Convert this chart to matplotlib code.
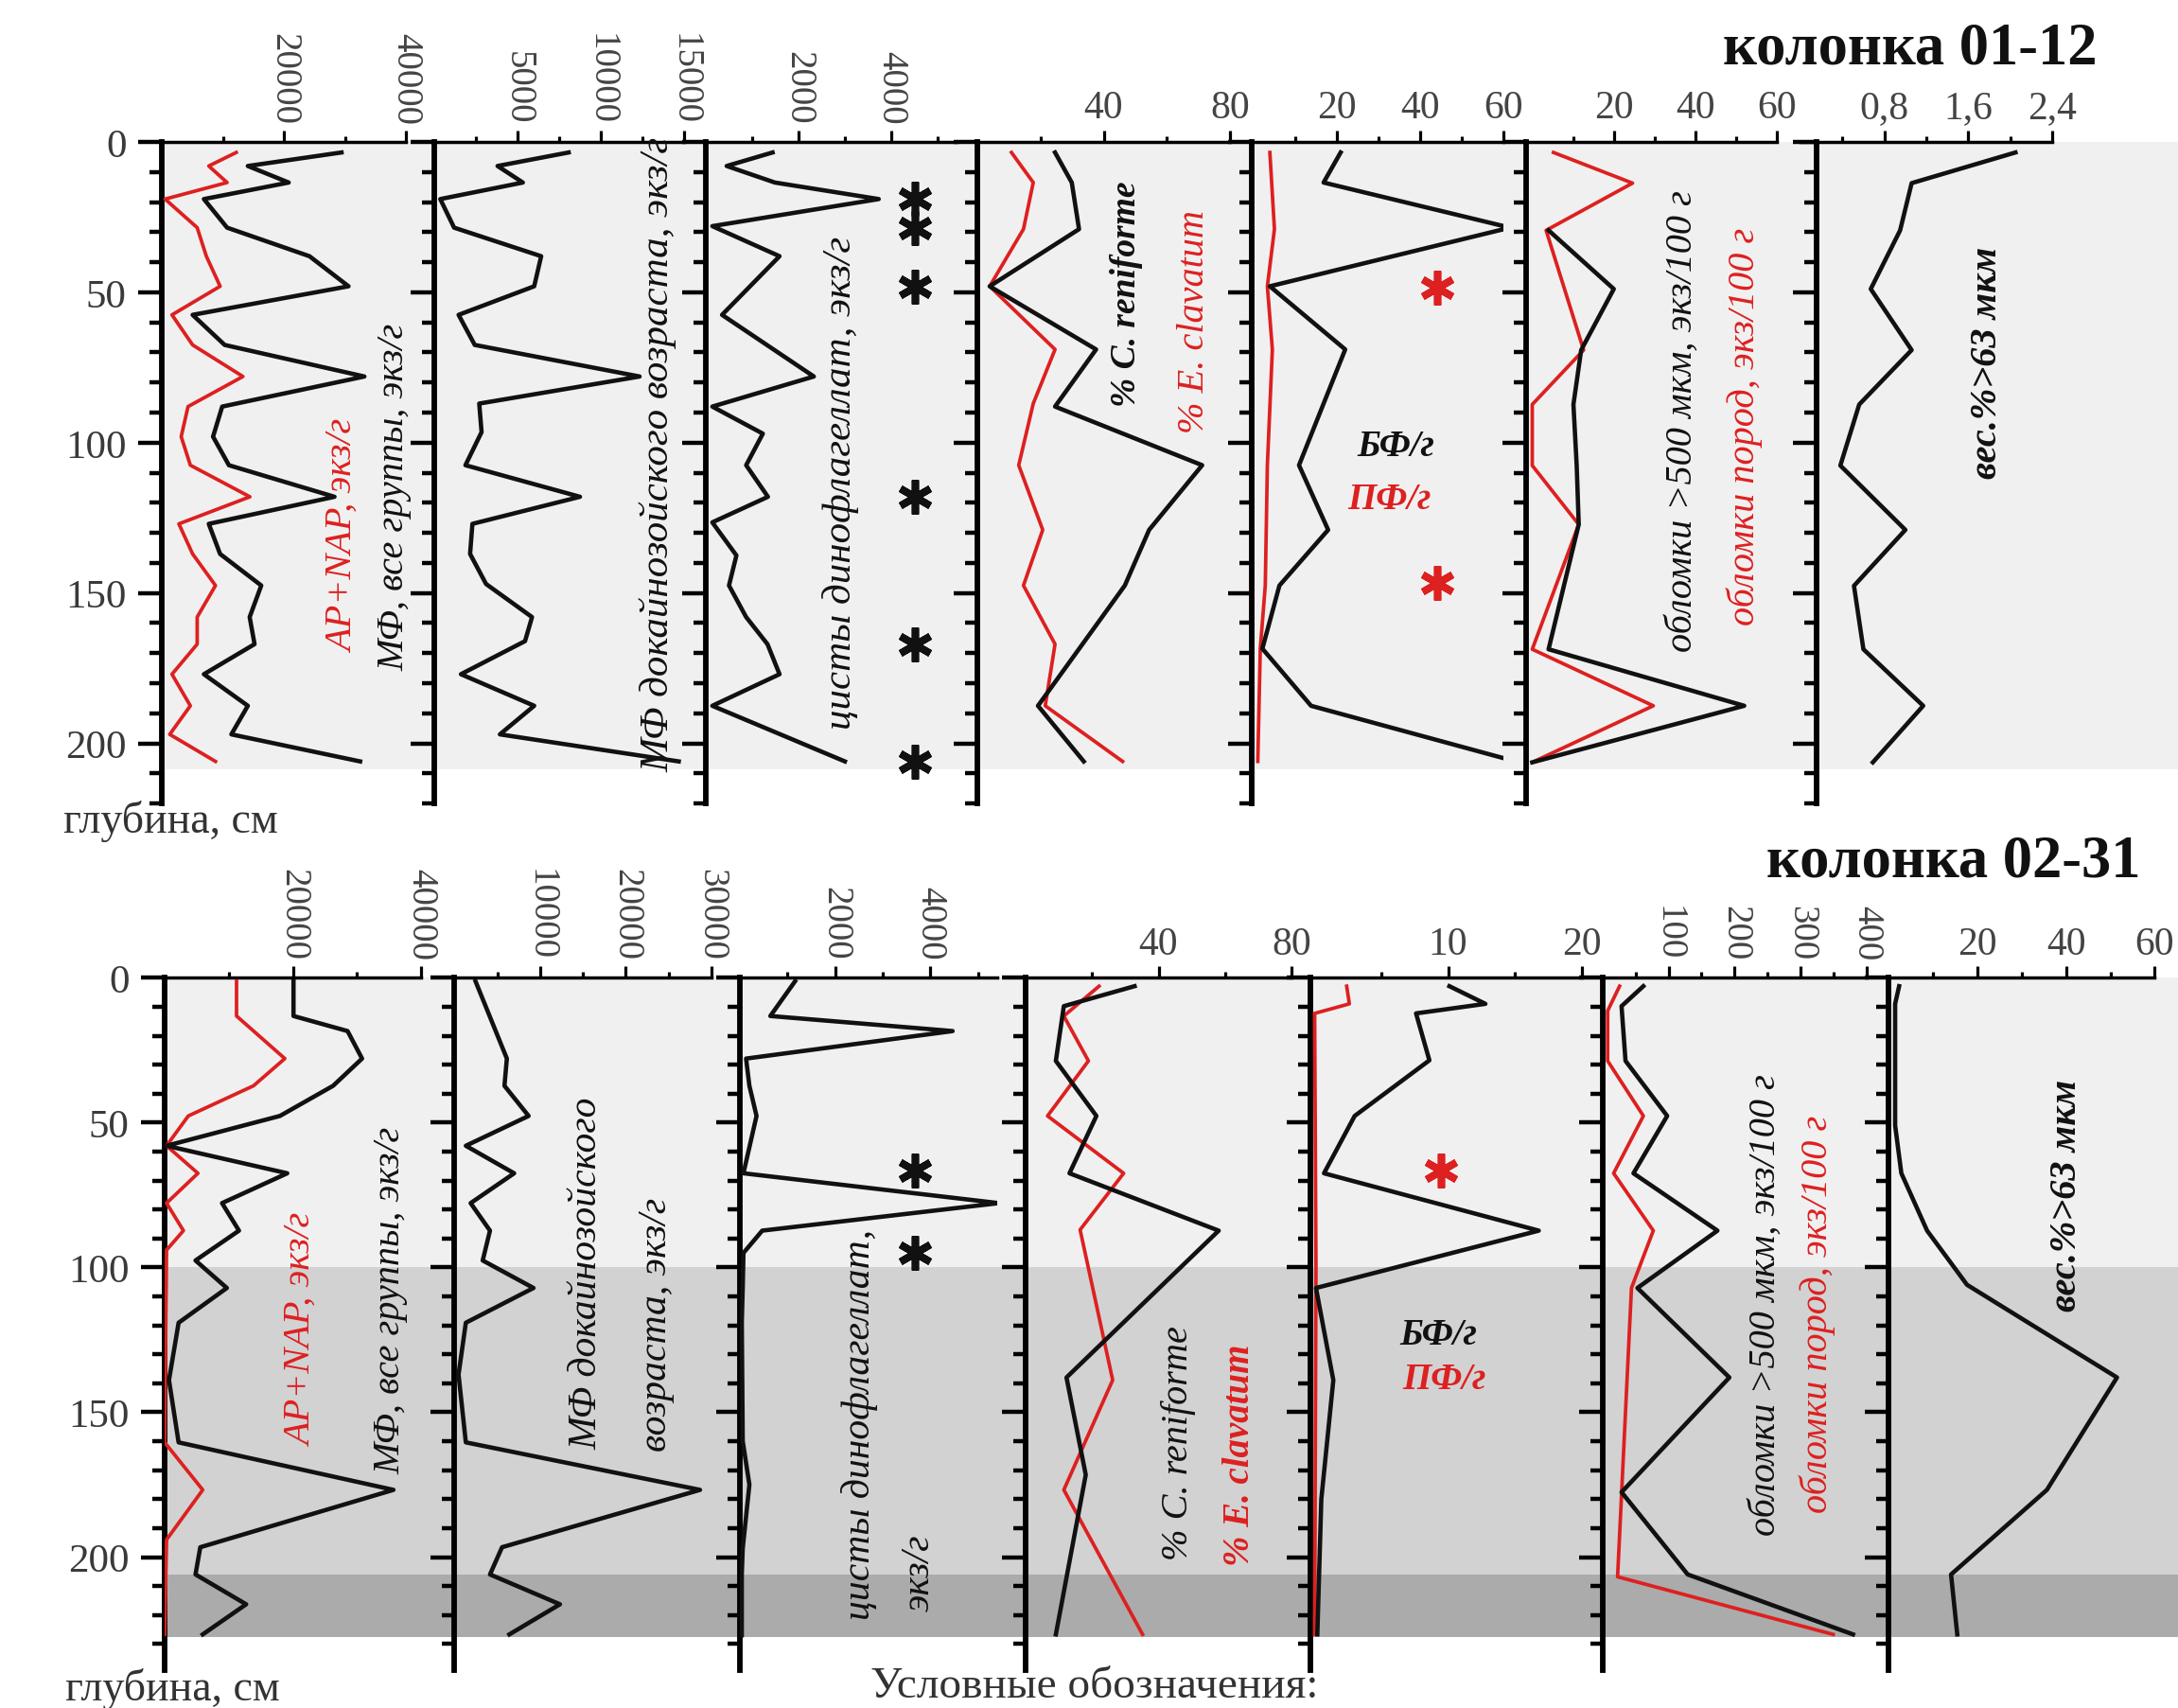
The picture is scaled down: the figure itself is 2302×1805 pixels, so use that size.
import matplotlib
matplotlib.use('Agg')
import matplotlib.pyplot as plt
from matplotlib.patches import Rectangle

plt.rcParams['font.family'] = ['Liberation Serif', 'DejaVu Serif']

# ================= DATA: колонка 01-12 (top) =================
t_mf_depth = [3.5, 8, 13.5, 19, 28.5, 38, 48, 57.5, 67.5, 78, 88, 98, 107.5, 118, 127, 137, 147.5, 158, 167, 177, 187.5, 197, 206]
t_mf_all = [29450, 14100, 20800, 6900, 10700, 24200, 30600, 5050, 10300, 33200, 9900, 8400, 11000, 28300, 7700, 9550, 16300, 14400, 15200, 6900, 14100, 11400, 32500]
t_ap_nap = [12200, 7700, 10700, 540, 5800, 7300, 9560, 1670, 5050, 13300, 4300, 3180, 4680, 14440, 2800, 5050, 8800, 5800, 5800, 1670, 4680, 1300, 8800]

t_pre_depth = [3.5, 8, 13.5, 19, 28.5, 38, 48, 57.5, 67.5, 78, 87, 96.5, 107.5, 118, 127, 137, 147, 158, 166, 177, 187.5, 197, 206]
t_mf_pre = [8070, 3800, 5320, 360, 1190, 6420, 6000, 1460, 2430, 12330, 2700, 2840, 1870, 8750, 2290, 2150, 3110, 5870, 5450, 1600, 6000, 3940, 14680]

t_dino_depth = [3.5, 8, 13.5, 19, 28, 38, 57.5, 78, 88, 97, 107.5, 118, 126.5, 137.5, 147.5, 158, 167, 177, 187.5, 206]
t_dino = [1440, 450, 1490, 3730, 140, 1590, 350, 2330, 140, 1230, 870, 1340, 140, 660, 500, 870, 1330, 1590, 140, 3000]
t_dino_star = [19, 28.5, 48, 118, 167, 206]

t_ren_depth = [3.5, 13.5, 29, 48, 69, 88, 107.5, 129, 147.5, 187.5, 206]
t_reniforme = [24.6, 29.9, 32.2, 3.9, 37.6, 24.6, 71.2, 54.4, 46.7, 19.2, 33.7]
t_clav_depth = [3.5, 13.5, 29, 48, 69, 87, 107.5, 129, 147.5, 167, 187.5, 206]
t_clavatum = [10.8, 17.7, 14.6, 3.9, 24.6, 17.7, 13.1, 20.7, 14.6, 24.6, 21.5, 46]

t_bf_depth = [3.5, 13.5, 28.5, 48, 69, 107.5, 129, 147.5, 168.5, 187.5, 205.5]
t_bf = [20.9, 16.8, 61.6, 3.9, 22, 10.9, 17.9, 6.2, 2.1, 13.8, 61.6]
t_pf_depth = [3.5, 29, 48, 69, 107.5, 147.5, 168.5, 206]
t_pf = [3.9, 5.0, 3.3, 4.5, 3.3, 2.8, 1.6, 1.0]
t_pf_star = [48.5, 146.5]

t_big_depth = [29.4, 48.9, 69.2, 87.3, 107.6, 127.2, 168.7, 187.5, 206.3]
t_big = [4.0, 20.0, 12.0, 10.1, 10.9, 11.4, 4.0, 52.0, 0]
t_rock_depth = [3.5, 13.7, 29.4, 69.2, 87.3, 107.6, 127.2, 168.7, 187.5, 206.3]
t_rock = [5.2, 24.6, 3.4, 12.6, 0, 0, 11.4, 0, 29.7, 0]

t_wt_depth = [3.5, 13.7, 29.4, 48.9, 69.2, 87.3, 107.6, 129, 147.6, 168.7, 187.5, 206.3]
t_wt = [2.05, 1.06, 0.95, 0.67, 1.06, 0.56, 0.38, 1.0, 0.51, 0.60, 1.17, 0.69]
t_zone = [0, 208.6]

# ================= DATA: колонка 02-31 (bottom) =================
b_mf_depth = [1.2, 13.2, 18.4, 27.9, 37.3, 47.7, 58, 67.5, 77.8, 87.3, 97.6, 107.1, 119.1, 138.9, 160.4, 176.8, 196.6, 206, 216.3, 226.7]
b_mf_all = [20090, 20090, 28520, 30780, 26260, 17980, 300, 19120, 8950, 11590, 4810, 9700, 2180, 680, 2180, 35670, 5560, 4810, 12710, 5940]
b_ap_depth = [1.2, 13.2, 27.9, 37.3, 47.7, 58, 67.5, 77.8, 87.3, 94, 160.4, 176.8, 194, 226.7]
b_ap_nap = [11210, 11210, 18740, 13850, 3690, 300, 5190, 300, 2930, 300, 0, 5940, 300, 0]

b_pre_depth = [1.2, 27.9, 37.3, 47.7, 58, 67.5, 77.8, 87.3, 97.6, 107.1, 119.1, 137, 160.4, 176.8, 196.6, 206, 216.3, 226.7]
b_mf_pre = [2450, 6110, 5830, 8650, 1320, 6960, 1880, 4140, 3290, 9220, 1320, 470, 1320, 28660, 5550, 4140, 12310, 6400]

b_dino_depth = [1.2, 13.2, 18.4, 27.9, 37.3, 47.7, 67.5, 77.8, 87.3, 95, 107, 119, 160, 175, 197, 206, 216, 227]
b_dino = [1160, 640, 4470, 130, 200, 350, 75, 5440, 470, 75, 60, 40, 60, 200, 60, 40, 40, 40]
b_dino_star = [66.5, 95]

b_ren_depth = [2.9, 9.8, 28.7, 47.7, 67.5, 87.3, 138, 171.6, 226.7]
b_reniforme = [32.8, 11.5, 9.1, 21.3, 13.2, 58.1, 12.3, 18.1, 9.1]
b_clav_depth = [2.9, 13.2, 28.7, 47.7, 67.5, 87, 138.9, 176.8, 226.7]
b_clavatum = [22.1, 11.5, 18.9, 6.6, 29.5, 16.4, 26.2, 11.5, 35.2]

b_bf_depth = [2.9, 9, 12.3, 28.5, 47.7, 67.5, 87.3, 107.1, 138.9, 180, 226.7]
b_bf = [10.1, 12.8, 7.6, 8.6, 3.0, 0.7, 16.8, 0.1, 1.4, 0.5, 0.2]
b_pf_depth = [2.9, 9, 12.3, 100, 226.7]
b_pf = [2.4, 2.6, 0.0, 0.1, 0.0]
b_pf_star = [66.5]

b_big_depth = [2.9, 9.8, 28.7, 47.7, 67.5, 87.3, 107.1, 138, 177.6, 206, 226.7]
b_big = [62, 29, 35, 98, 47, 174, 53, 192, 29, 129, 379]
b_rock_depth = [2.9, 11.4, 28.7, 47.7, 67.5, 87.3, 107.1, 206.8, 226.7]
b_rock = [26, 8, 8, 62, 17, 77, 44, 23, 349]

b_wt_depth = [2.9, 9, 51, 67.5, 87.3, 106, 138, 176.8, 206, 226.7]
b_wt = [2.4, 1.5, 1.5, 2.9, 8.7, 17.7, 51.5, 35.7, 14.1, 15.5]
b_zones = [0, 100, 206, 227.5]

depth_ticks = [0, 50, 100, 150, 200]

# ================= LAYOUT =================
W, H, DPI = 2302, 1806, 100
RED = '#dd2020'
BLACK = '#111111'
fig = plt.figure(figsize=(W / DPI, H / DPI), dpi=DPI)
fig.patch.set_facecolor('white')


def ftext(x, y, s, **kw):
    kw.setdefault('ha', 'center')
    kw.setdefault('va', 'center')
    return fig.text(x / W, 1 - y / H, s, **kw)


def panel(pa, pb, va, vb, xlim, y0, sy, dmax, majors, labels, minors, rot,
          lsize, lpad, first=False, spine_at=None, bounds=None):
    s = (pb - pa) / (vb - va)
    left = pa + (xlim[0] - va) * s
    right = pa + (xlim[1] - va) * s
    bottom = y0 + dmax * sy
    ax = fig.add_axes([left / W, 1 - bottom / H, (right - left) / W, (bottom - y0) / H])
    ax.set_facecolor('none')
    ax.set_xlim(*xlim)
    ax.set_ylim(dmax, 0)
    ax.spines['right'].set_visible(False)
    ax.spines['bottom'].set_visible(False)
    ax.spines['left'].set_linewidth(4.2)
    ax.spines['top'].set_linewidth(2.5)
    if spine_at is not None:
        ax.spines['left'].set_position(('data', spine_at))
    if bounds is not None:
        ax.spines['top'].set_bounds(*bounds)
    ax.xaxis.tick_top()
    ax.set_xticks(majors, labels)
    ax.set_xticks(minors, minor=True)
    ax.tick_params(axis='x', which='major', direction='out', length=9, width=2.3,
                   pad=lpad, labelsize=lsize, labelrotation=rot, labelcolor='#444444')
    ax.tick_params(axis='x', which='minor', direction='out', length=4.5, width=2.3)
    ax.set_yticks(depth_ticks, [str(t) for t in depth_ticks])
    ax.set_yticks([d for d in range(10, int(dmax) + 1, 10) if d % 50], minor=True)
    ax.tick_params(axis='y', which='major', direction='out', length=18, width=3.2,
                   pad=9, labelleft=first, labelsize=31, labelcolor='#3a3a3a')
    ax.tick_params(axis='y', which='minor', direction='out', length=9.5, width=3.2)
    return ax


def star(ax, xv, depths, color):
    ax.plot([xv] * len(depths), depths, linestyle='none', marker=(6, 2, 0),
            markersize=26, markeredgewidth=5.5, color=color, zorder=4)


LW_K, LW_R = 3.3, 2.7

# ---------- top block ----------
TY0, TSY, TMAX = 151, 3.178, 220
ty = lambda d: TY0 + d * TSY
fig.add_artist(Rectangle((170 / W, 1 - ty(t_zone[1]) / H), (W - 170) / W,
                         (ty(t_zone[1]) - ty(t_zone[0])) / H, transform=fig.transFigure,
                         facecolor='#f0f0f0', edgecolor='none', zorder=-5))

ax = panel(171, 429, 0, 40000, (0, 40000), TY0, TSY, TMAX, [20000, 40000], ['20000', '40000'],
           [10000, 30000], 270, 28, 5, first=True)
ax.plot(t_ap_nap, t_mf_depth, color=RED, lw=LW_R, zorder=3)
ax.plot(t_mf_all, t_mf_depth, color=BLACK, lw=LW_K, zorder=3)

ax = panel(459, 723, 0, 15000, (0, 15000), TY0, TSY, TMAX, [5000, 10000, 15000],
           ['5000', '10000', '15000'], [2500, 7500, 12500], 270, 28, 5)
ax.plot(t_mf_pre, t_pre_depth, color=BLACK, lw=LW_K, zorder=3)

ax = panel(746, 942, 0, 4000, (0, 5400), TY0, TSY, TMAX, [2000, 4000], ['2000', '4000'],
           [1000, 3000, 5000], 270, 28, 5)
ax.plot(t_dino, t_dino_depth, color=BLACK, lw=LW_K, zorder=3)
star(ax, 4510, t_dino_star, BLACK)

ax = panel(1033, 1300, 0, 80, (0, 80), TY0, TSY, TMAX, [40, 80], ['40', '80'], [20, 60], 0, 30, 3)
ax.plot(t_clavatum, t_clav_depth, color=RED, lw=LW_R, zorder=3)
ax.plot(t_reniforme, t_ren_depth, color=BLACK, lw=LW_K, zorder=3)

ax = panel(1325, 1589, 0, 60, (-0.4, 60), TY0, TSY, TMAX, [20, 40, 60], ['20', '40', '60'],
           [10, 30, 50], 0, 30, 3)
ax.plot(t_pf, t_pf_depth, color=RED, lw=LW_R, zorder=3)
ax.plot(t_bf, t_bf_depth, color=BLACK, lw=LW_K, zorder=3)
star(ax, 44.2, t_pf_star, RED)

ax = panel(1619.5, 1878, 0, 60, (-1.5, 60), TY0, TSY, TMAX, [20, 40, 60], ['20', '40', '60'],
           [10, 30, 50], 0, 30, 3)
ax.plot(t_rock, t_rock_depth, color=RED, lw=LW_R, zorder=3)
ax.plot(t_big, t_big_depth, color=BLACK, lw=LW_K, zorder=3)

ax = panel(1903, 2169, 0, 2.4, (0, 3.6), TY0, TSY, TMAX, [0.8, 1.6, 2.4], ['0,8', '1,6', '2,4'],
           [0.4, 1.2, 2.0], 0, 30, 3, spine_at=0.15, bounds=(0, 2.4))
ax.plot(t_wt, t_wt_depth, color=BLACK, lw=LW_K, zorder=3)

# ---------- bottom block ----------
BY0, BSY, BMAX = 1034.3, 3.061, 239
by = lambda d: BY0 + d * BSY
for (d0, d1), col in zip(zip(b_zones[:-1], b_zones[1:]), ['#f0f0f0', '#d2d2d2', '#ababab']):
    fig.add_artist(Rectangle((174 / W, 1 - by(d1) / H), (W - 174) / W, (by(d1) - by(d0)) / H,
                             transform=fig.transFigure, facecolor=col, edgecolor='none', zorder=-5))

ax = panel(174, 445.2, 0, 40000, (0, 40000), BY0, BSY, BMAX, [20000, 40000], ['20000', '40000'],
           [10000, 30000], 270, 28, 5, first=True)
ax.plot(b_ap_nap, b_ap_depth, color=RED, lw=LW_R, zorder=3)
ax.plot(b_mf_all, b_mf_depth, color=BLACK, lw=LW_K, zorder=3)

ax = panel(480.4, 752, 0, 30000, (0, 30000), BY0, BSY, BMAX, [10000, 20000, 30000],
           ['10000', '20000', '30000'], [5000, 15000, 25000], 270, 28, 5)
ax.plot(b_mf_pre, b_pre_depth, color=BLACK, lw=LW_K, zorder=3)

ax = panel(782, 983.2, 0, 4000, (0, 5400), BY0, BSY, BMAX, [2000, 4000], ['2000', '4000'],
           [1000, 3000, 5000], 270, 28, 5)
ax.plot(b_dino, b_dino_depth, color=BLACK, lw=LW_K, zorder=3)
star(ax, 3670, b_dino_star, BLACK)

ax = panel(1084, 1365, 0, 80, (0, 80), BY0, BSY, BMAX, [40, 80], ['40', '80'], [20, 60], 0, 30, 3)
ax.plot(b_clavatum, b_clav_depth, color=RED, lw=LW_R, zorder=3)
ax.plot(b_reniforme, b_ren_depth, color=BLACK, lw=LW_K, zorder=3)

ax = panel(1389.5, 1671.5, 0, 20, (-0.3, 20), BY0, BSY, BMAX, [10, 20], ['10', '20'], [5, 15], 0, 30, 3)
ax.plot(b_pf, b_pf_depth, color=RED, lw=LW_R, zorder=3)
ax.plot(b_bf, b_bf_depth, color=BLACK, lw=LW_K, zorder=3)
star(ax, 9.5, b_pf_star, RED)

ax = panel(1693.6, 1973.2, 0, 400, (0, 400), BY0, BSY, BMAX, [100, 200, 300, 400],
           ['100', '200', '300', '400'], [50, 150, 250, 350], 270, 28, 5)
ax.plot(b_rock, b_rock_depth, color=RED, lw=LW_R, zorder=3)
ax.plot(b_big, b_big_depth, color=BLACK, lw=LW_K, zorder=3)

ax = panel(1996, 2277.4, 0, 60, (0, 65), BY0, BSY, BMAX, [20, 40, 60], ['20', '40', '60'],
           [10, 30, 50], 0, 30, 3, bounds=(0, 60))
ax.plot(b_wt, b_wt_depth, color=BLACK, lw=LW_K, zorder=3)

# ---------- texts ----------
def it(size):
    return dict(style='italic', fontsize=size)

ftext(363, 567, 'AP+NAP, экз/г', rotation=90, color=RED, **it(29))
ftext(417, 525, 'МФ, все группы, экз/г', rotation=90, color=BLACK, **it(29))
ftext(696, 480, 'МФ докайнозойского возраста, экз/г', rotation=90, color=BLACK, **it(31))
ftext(888, 510, 'цисты динофлагеллат, экз/г', rotation=90, color=BLACK, **it(31))
ftext(1191, 311, '% C. reniforme', rotation=90, color=BLACK, fontweight='bold', **it(27))
ftext(1263, 340, '% E. clavatum', rotation=90, color=RED, **it(29))
ftext(1475, 473, 'БФ/г', color=BLACK, fontweight='bold', style='italic', fontsize=28)
ftext(1468, 528, 'ПФ/г', color=RED, fontweight='bold', style='italic', fontsize=28)
ftext(1778, 445, 'обломки >500 мкм, экз/100 г', rotation=90, color=BLACK, **it(29))
ftext(1844, 451, 'обломки пород, экз/100 г', rotation=90, color=RED, **it(29))
ftext(2101, 383, 'вес.%>63 мкм', rotation=90, color=BLACK, fontweight='bold', **it(29))
ftext(2019, 52, 'колонка 01-12', fontweight='bold', fontsize=45, color=BLACK)
ftext(180, 868, 'глубина, см', fontsize=33, color='#333333')

ftext(319, 1406, 'AP+NAP, экз/г', rotation=90, color=RED, **it(29))
ftext(413, 1374, 'МФ, все группы, экз/г', rotation=90, color=BLACK, **it(29))
ftext(620, 1346, 'МФ докайнозойского', rotation=90, color=BLACK, **it(30))
ftext(694, 1400, 'возраста, экз/г', rotation=90, color=BLACK, **it(30))
ftext(909, 1505, 'цисты динофлагеллат,', rotation=90, color=BLACK, **it(30))
ftext(972, 1662, 'экз/г', rotation=90, color=BLACK, **it(30))
ftext(1245, 1525, '% C. reniforme', rotation=90, color=BLACK, **it(29))
ftext(1311, 1538, '% E. clavatum', rotation=90, color=RED, fontweight='bold', **it(28))
ftext(1520, 1412, 'БФ/г', color=BLACK, fontweight='bold', style='italic', fontsize=28)
ftext(1526, 1459, 'ПФ/г', color=RED, fontweight='bold', style='italic', fontsize=28)
ftext(1866, 1379, 'обломки >500 мкм, экз/100 г', rotation=90, color=BLACK, **it(29))
ftext(1921, 1389, 'обломки пород, экз/100 г', rotation=90, color=RED, **it(29))
ftext(2184, 1263, 'вес.%>63 мкм', rotation=90, color=BLACK, fontweight='bold', **it(29))
ftext(2065, 912, 'колонка 02-31', fontweight='bold', fontsize=45, color=BLACK)
ftext(182, 1785, 'глубина, см', fontsize=33, color='#333333')
ftext(1157, 1804, 'Условные обозначения:', fontsize=34, color='#333333', va='bottom')

fig.savefig('out.png', dpi=DPI, facecolor='white')
